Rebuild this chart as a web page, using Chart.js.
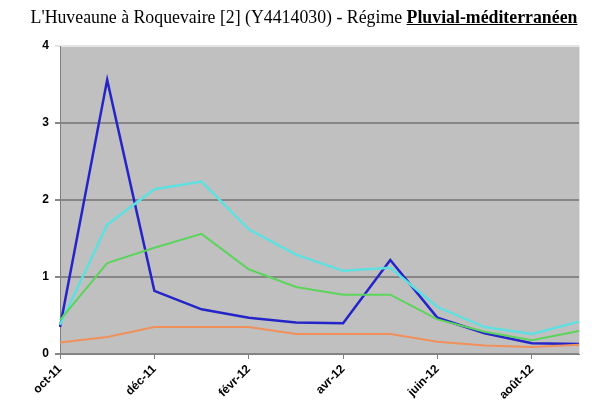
<!DOCTYPE html>
<html>
<head>
<meta charset="utf-8">
<script src="https://cdn.jsdelivr.net/npm/chart.js@4/dist/chart.umd.min.js"></script>
<style>
body { margin:0; background:#fff; }
#wrap { position:relative; width:598px; height:414px; }
#titre { position:absolute; left:0; top:7px; width:608px; text-align:center; white-space:nowrap;
	font-family:"Liberation Serif","Times New Roman",serif; font-size:17.8px; color:#000; }
</style>
</head>
<body>
<div id="wrap">
	<div id="titre">L'Huveaune à Roquevaire [2] (Y4414030) - Régime <b><u>Pluvial-méditerranéen</u></b></div>
	<canvas id="myChart" width="598" height="414"></canvas>
</div>
<script>
// # ===============================
// # = Données (débits mensuels)
// # ===============================
var mois = ['oct-11','nov-11','déc-11','janv-12','févr-12','mars-12','avr-12','mai-12','juin-12','juil-12','août-12','sept-12'];
var serieBleue  = [0.35, 3.56, 0.82, 0.58, 0.47, 0.41, 0.40, 1.22, 0.47, 0.27, 0.14, 0.13];
var serieCyan   = [0.38, 1.68, 2.14, 2.24, 1.62, 1.29, 1.08, 1.12, 0.61, 0.35, 0.26, 0.42];
var serieVerte  = [0.44, 1.18, 1.38, 1.56, 1.10, 0.87, 0.77, 0.77, 0.45, 0.29, 0.18, 0.30];
var serieOrange = [0.15, 0.22, 0.35, 0.35, 0.35, 0.26, 0.26, 0.26, 0.16, 0.11, 0.09, 0.12];
var ticksY = [0, 1, 2, 3, 4];

var fondGris = {
	id: 'fondGris',
	beforeDraw: function(chart) {
		var a = chart.chartArea, c = chart.ctx;
		c.save();
		c.fillStyle = '#c0c0c0';
		c.fillRect(a.left, a.top, a.right - a.left, a.bottom - a.top);
		c.strokeStyle = '#e4e4e4';
		c.lineWidth = 1;
		c.beginPath();
		c.moveTo(a.right + 0.5, a.top);
		c.lineTo(a.right + 0.5, a.bottom);
		c.stroke();
		c.restore();
	}
};

function ligne(data, couleur, epaisseur) {
	return {
		data: data,
		borderColor: couleur,
		borderWidth: epaisseur,
		pointRadius: 0,
		tension: 0,
		fill: false
	};
}

const ctx = document.getElementById('myChart');
new Chart(ctx, {
	type: 'line',
	data: {
		labels: mois,
		datasets: [
			ligne(serieOrange, '#f0905a', 2),
			ligne(serieVerte, '#5cd45c', 2),
			ligne(serieCyan, '#5fe0e0', 2.5),
			ligne(serieBleue, '#2424c8', 2.5)
		]
	},
	options: {
		responsive: false,
		animation: false,
		layout: { padding: { left: 0, right: 19, top: 46, bottom: 0 } },
		plugins: { legend: { display: false }, tooltip: { enabled: false } },
		scales: {
			x: {
				offset: false,
				grid: {
					drawOnChartArea: false,
					tickLength: 5,
					color: function(c) { return c.index % 2 == 0 ? '#808080' : 'rgba(0,0,0,0)'; }
				},
				border: { color: '#808080', width: 1 },
				ticks: {
					autoSkip: false,
					minRotation: 45,
					maxRotation: 45,
					color: '#000',
					font: { family: 'Liberation Sans', size: 12, weight: 'bold' },
					callback: function(v, i) { return i % 2 == 0 ? mois[i] : ''; }
				},
				afterFit: function(s) { s.height = 60; }
			},
			y: {
				min: 0,
				max: 4,
				afterBuildTicks: function(s) { s.ticks = ticksY.map(function(v) { return { value: v }; }); },
				grid: {
					color: function(c) { return c.tick && c.tick.value == 4 ? '#e4e4e4' : '#868686'; },
					lineWidth: 2,
					tickLength: 5
				},
				border: { color: '#808080', width: 1 },
				ticks: {
					color: '#000',
					padding: 6,
					font: { family: 'Liberation Sans', size: 12, weight: 'bold' }
				},
				afterFit: function(s) { s.width = 60; }
			}
		}
	},
	plugins: [fondGris]
});
</script>
</body>
</html>
